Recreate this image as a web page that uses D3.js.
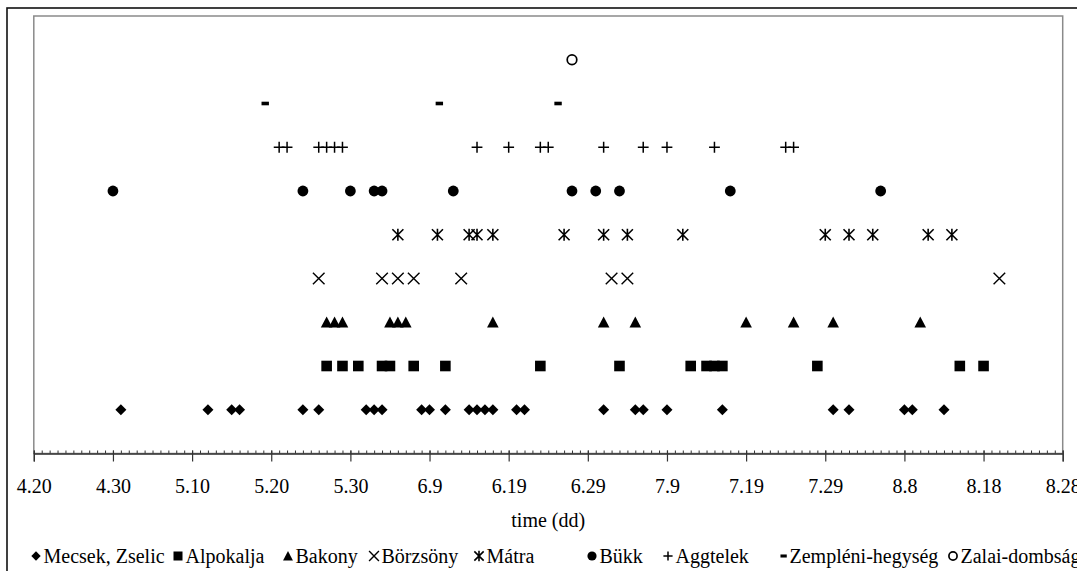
<!DOCTYPE html>
<html><head><meta charset="utf-8">
<script src="https://cdn.jsdelivr.net/npm/d3@7"></script>
<style>
body{margin:0;background:#fff;overflow:hidden}
svg{display:block}
text{font-family:"Liberation Serif","Times New Roman",serif;fill:#000}
</style>
</head><body>
<svg id="c" width="1077" height="571"></svg>
<script>
// ---- data (dates as month.day) ----
const regions = ["Mecsek, Zselic","Alpokalja","Bakony","Börzsöny","Mátra","Bükk","Aggtelek","Zempléni-hegység","Zalai-dombság"];
const mecsekZselic = ["5.1","5.12","5.15","5.16","5.24","5.26","6.1","6.2","6.3","6.8","6.9","6.11","6.14","6.15","6.16","6.17","6.20","6.21","7.1","7.5","7.6","7.9","7.16","7.30","8.1","8.8","8.9","8.13"];
const alpokalja = ["5.27","5.29","5.31","6.3","6.4","6.7","6.11","6.23","7.3","7.12","7.14","7.15","7.16","7.28","8.15","8.18"];
const bakony = ["5.27","5.28","5.29","6.4","6.5","6.6","6.17","7.1","7.5","7.19","7.25","7.30","8.10"];
const borzsony = ["5.26","6.3","6.5","6.7","6.13","7.2","7.4","8.20"];
const matra = ["6.5","6.10","6.14","6.15","6.17","6.26","7.1","7.4","7.11","7.29","8.1","8.4","8.11","8.14"];
const bukk = ["4.30","5.24","5.30","6.2","6.3","6.12","6.27","6.30","7.3","7.17","8.5"];
const aggtelek = ["5.21","5.22","5.26","5.27","5.28","5.29","6.15","6.19","6.23","6.24","7.1","7.6","7.9","7.15","7.24","7.25"];
const zemplen = ["5.19","6.10","6.25"];
const zalai = ["6.27"];
const rowValues = [1,2,3,4,5,6,7,8,9];
const tickLabels = ["4.20","4.30","5.10","5.20","5.30","6.9","6.19","6.29","7.9","7.19","7.29","8.8","8.18","8.28"];
const axisTitle = "time (dd)";

const seriesDates = [mecsekZselic, alpokalja, bakony, borzsony, matra, bukk, aggtelek, zemplen, zalai];
const markerTypes = ["diamond","square","triangle","x","star","circle","plus","dash","ring"];

// ---- layout ----
const svg = d3.select("#c");
const L = 33.8, R = 1062.7, T = 16, B = 453.5;
const parse = s => { const [m,d] = s.split(".").map(Number); return new Date(Date.UTC(2000, m-1, d)); };
const fmt = d => (d.getUTCMonth()+1) + "." + d.getUTCDate();

const x = d3.scaleUtc().domain([parse(tickLabels[0]), parse(tickLabels[tickLabels.length-1])]).range([L, R]);
const y = d3.scaleLinear().domain([0,10]).range([B, T]);

// outer frame
svg.append("rect").attr("x",7).attr("y",8).attr("width",1100).attr("height",600)
  .attr("fill","none").attr("stroke","#111").attr("stroke-width",1.6);

// plot area border
svg.append("rect").attr("x",L).attr("y",T).attr("width",R-L).attr("height",B-T)
  .attr("fill","#fff").attr("stroke","#8a8a8a").attr("stroke-width",1.5);

// minor ticks (daily)
const minor = d3.axisBottom(x).tickValues(d3.utcDay.range(x.domain()[0], d3.utcDay.offset(x.domain()[1],1)))
  .tickSizeInner(-3).tickSizeOuter(0).tickFormat("");
const gMinor = svg.append("g").attr("transform",`translate(0,${B})`).call(minor);
gMinor.select(".domain").remove();
gMinor.selectAll("line").attr("stroke","#333").attr("stroke-width",1);

// major axis
const major = d3.axisBottom(x).tickValues(tickLabels.map(parse)).tickFormat(fmt).tickSizeOuter(0).tickSize(8).tickPadding(18);
const gx = svg.append("g").attr("transform",`translate(0,${B})`).call(major);
gx.select(".domain").attr("stroke","#333").attr("stroke-width",1.3);
gx.selectAll(".tick line").attr("y1",-3).attr("y2",8).attr("stroke","#333").attr("stroke-width",1.2);
gx.selectAll(".tick text").attr("font-size",20).attr("font-family","Liberation Serif").attr("fill","#000").attr("dy",null).attr("y",39);

// axis title
svg.append("text").attr("x",(L+R)/2).attr("y",527).attr("text-anchor","middle").attr("font-size",20).text(axisTitle);

// marker drawing
function drawMarker(g, type, s) {
  const k = s || 1;
  switch(type){
    case "diamond": {
      const r = 5.5*k;
      g.append("path").attr("d",`M0,${-r}L${r},0L0,${r}L${-r},0Z`).attr("fill","#000"); break; }
    case "square": {
      const r = 5.3*k;
      g.append("rect").attr("x",-r).attr("y",-r).attr("width",2*r).attr("height",2*r).attr("fill","#000"); break; }
    case "triangle": {
      const r = 5.8*k;
      g.append("path").attr("d",`M0,${-r}L${r},${r*0.9}L${-r},${r*0.9}Z`).attr("fill","#000"); break; }
    case "x": {
      const r = 5.8*k;
      g.append("path").attr("d",`M${-r},${-r}L${r},${r}M${-r},${r}L${r},${-r}`).attr("stroke","#000").attr("stroke-width",1.4).attr("fill","none"); break; }
    case "star": {
      const r = 5.5*k;
      g.append("path").attr("d",`M${-r},${-r}L${r},${r}M${-r},${r}L${r},${-r}M0,${-r-0.5}L0,${r+0.5}`).attr("stroke","#000").attr("stroke-width",1.6).attr("fill","none"); break; }
    case "circle":
      g.append("circle").attr("r",5.4*k).attr("fill","#000"); break;
    case "plus": {
      const r = 5.4*k;
      g.append("path").attr("d",`M${-r},0L${r},0M0,${-r}L0,${r}`).attr("stroke","#000").attr("stroke-width",1.5).attr("fill","none"); break; }
    case "dash":
      g.append("rect").attr("x",-1.8*k).attr("y",-1.8*k).attr("width",7.4*k).attr("height",3.6*k).attr("fill","#000"); break;
    case "ring":
      g.append("circle").attr("r",4.8*k).attr("fill","#fff").attr("stroke","#000").attr("stroke-width",1.7); break;
  }
}

// points
seriesDates.forEach((dates, i) => {
  const g = svg.append("g").attr("class","series");
  dates.forEach(ds => {
    const m = g.append("g").attr("transform",`translate(${x(parse(ds))},${y(rowValues[i])})`);
    drawMarker(m, markerTypes[i]);
  });
});

// legend (marker positions as layout)
const legendMarkerX = [36, 178, 288, 374, 479, 592, 668, 782, 953];
const legY = 556, legFont = 20, mToT = 7.5;
regions.forEach((name, i) => {
  const g = svg.append("g").attr("transform",`translate(${legendMarkerX[i]},${legY})`);
  drawMarker(g, markerTypes[i], 0.85);
  g.append("text").attr("x", mToT).attr("y", 7).attr("font-size", legFont).text(name);
});
</script>
</body></html>
